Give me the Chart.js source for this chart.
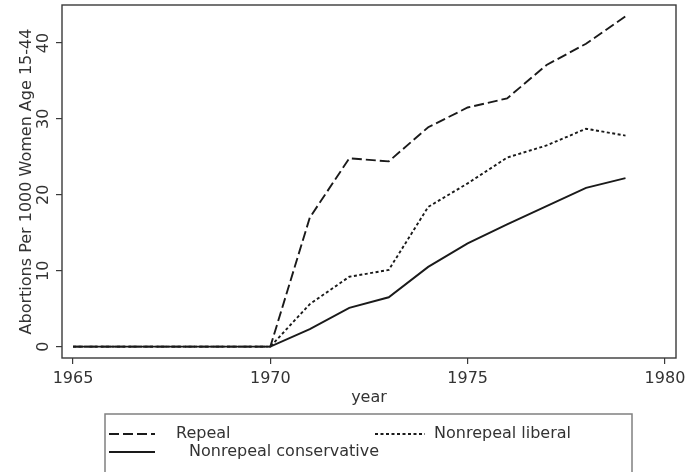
<!DOCTYPE html>
<html><head><meta charset="utf-8">
<script src="https://cdn.jsdelivr.net/npm/chart.js@4/dist/chart.umd.min.js"></script>
<style>html,body{margin:0;padding:0;background:#fff;}#wrap{width:695px;height:472px;position:relative;}</style>
</head><body><div id="wrap"><canvas id="c" width="695" height="472"></canvas></div>
<script>
const years = [1965,1966,1967,1968,1969,1970,1971,1972,1973,1974,1975,1976,1977,1978,1979];
const repeal = [0,0,0,0,0,0,17.0,24.8,24.4,28.9,31.5,32.7,37.1,39.9,43.5];
const liberal = [0,0,0,0,0,0,5.6,9.2,10.1,18.4,21.5,24.9,26.5,28.7,27.8];
const conservative = [0,0,0,0,0,0,2.3,5.1,6.5,10.5,13.6,16.1,18.5,20.9,22.2];
const xTicks = [1965,1970,1975,1980];
const yTicks = [0,10,20,30,40];
const seriesNames = ['Repeal','Nonrepeal liberal','Nonrepeal conservative'];
const xTitle = 'year';
const yTitle = 'Abortions Per 1000 Women Age 15-44';

const FONT = '"DejaVu Sans", sans-serif';
const TXT = '#333333';
const pts = arr => years.map((y,i)=>({x:y,y:arr[i]}));

const framePlugin = {
  id:'frame',
  afterDraw(chart){
    const {ctx, chartArea:a} = chart;
    ctx.save();
    ctx.strokeStyle = '#3a3a3a'; ctx.lineWidth = 1.4;
    ctx.strokeRect(a.left, a.top, a.right-a.left, a.bottom-a.top);
    const ys = chart.scales.y;
    ctx.fillStyle = TXT; ctx.font = '16px ' + FONT;
    ctx.textAlign = 'center'; ctx.textBaseline = 'alphabetic';
    yTicks.forEach(v=>{
      const py = ys.getPixelForValue(v);
      ctx.save(); ctx.translate(48, py); ctx.rotate(-Math.PI/2);
      ctx.fillText(String(v), 0, 0); ctx.restore();
    });
    const ds = chart.data.datasets;
    ctx.strokeStyle = '#808080'; ctx.lineWidth = 1.5;
    ctx.strokeRect(105, 414, 527, 70);
    const items = [
      {i:0, x0:109, x1:155, tx:176, y:434},
      {i:1, x0:375, x1:425, tx:434, y:434},
      {i:2, x0:109, x1:155, tx:189, y:452}
    ];
    items.forEach(it=>{
      const d = ds[it.i];
      ctx.save();
      ctx.strokeStyle = d.borderColor; ctx.lineWidth = d.borderWidth;
      ctx.setLineDash(d.borderDash || []);
      ctx.beginPath(); ctx.moveTo(it.x0, it.y); ctx.lineTo(it.x1, it.y); ctx.stroke();
      ctx.restore();
      ctx.fillStyle = TXT; ctx.font = '16px ' + FONT;
      ctx.textAlign = 'left'; ctx.textBaseline = 'middle';
      ctx.fillText(d.label, it.tx, it.y);
    });
    ctx.restore();
  }
};

new Chart(document.getElementById('c'), {
  type:'line',
  data:{datasets:[
    {label:seriesNames[0], data:pts(repeal), borderColor:'#1a1a1a', borderWidth:1.9, borderDash:[10,4], pointRadius:0, fill:false, tension:0},
    {label:seriesNames[1], data:pts(liberal), borderColor:'#1a1a1a', borderWidth:1.9, borderDash:[3,2.5], pointRadius:0, fill:false, tension:0},
    {label:seriesNames[2], data:pts(conservative), borderColor:'#1a1a1a', borderWidth:1.9, pointRadius:0, fill:false, tension:0}
  ]},
  options:{
    responsive:false, animation:false, devicePixelRatio:1,
    layout:{padding:{top:5,right:19,left:0,bottom:0}},
    plugins:{legend:{display:false}, tooltip:{enabled:false}},
    scales:{
      x:{type:'linear', min:1964.72, max:1980.28,
        afterBuildTicks:s=>{s.ticks = xTicks.map(v=>({value:v}));},
        afterFit:s=>{s.height = 114;},
        grid:{drawOnChartArea:false, drawTicks:true, tickLength:6, color:'#3a3a3a', lineWidth:1.2},
        border:{display:false},
        ticks:{color:TXT, font:{family:FONT, size:16}, padding:5, maxRotation:0, autoSkip:false, callback:v=>String(v)},
        title:{display:true, text:xTitle, color:TXT, font:{family:FONT, size:16}, padding:{top:0,bottom:65}}
      },
      y:{type:'linear', min:-1.5, max:45,
        afterBuildTicks:s=>{s.ticks = yTicks.map(v=>({value:v}));},
        afterFit:s=>{s.width = 62;},
        grid:{drawOnChartArea:false, drawTicks:true, tickLength:6, color:'#3a3a3a', lineWidth:1.2},
        border:{display:false},
        ticks:{display:false},
        title:{display:true, text:yTitle, color:TXT, font:{family:FONT, size:16}, padding:{top:17,bottom:0}}
      }
    }
  },
  plugins:[framePlugin]
});
</script></body></html>
